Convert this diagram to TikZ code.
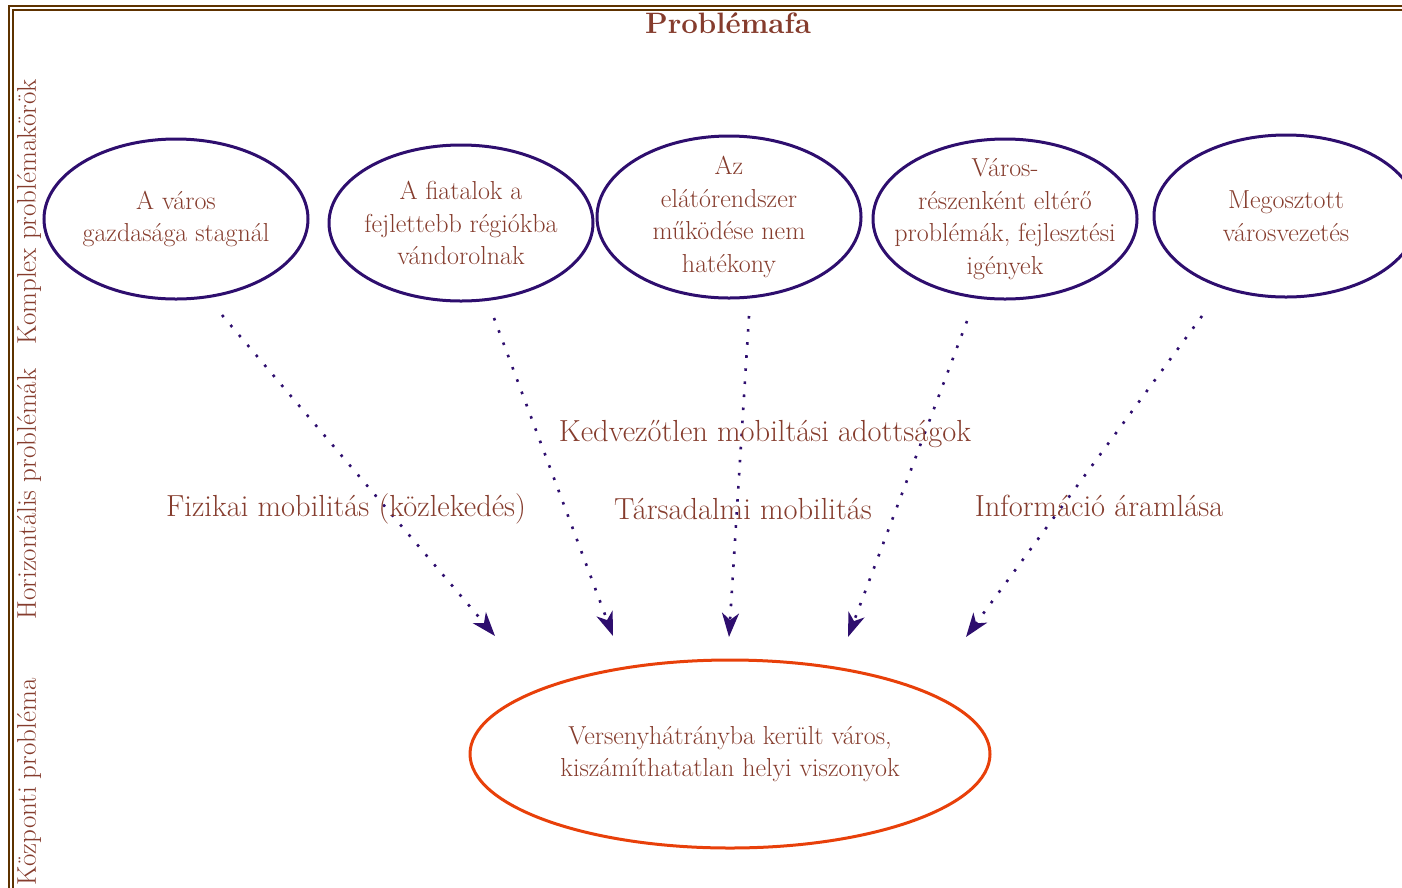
\documentclass[tikz,border=0pt]{standalone}
\usepackage{fontspec}
\usetikzlibrary{shapes.geometric,arrows.meta}

\definecolor{framebrown}{RGB}{94,50,0}
\definecolor{textbrown}{RGB}{133,60,45}
\definecolor{ovalpurple}{RGB}{46,14,110}
\definecolor{coreorange}{RGB}{232,64,10}

\tikzset{
  problem/.style={ellipse,draw=ovalpurple,line width=3pt,inner xsep=-30pt,inner ysep=-15pt,
    minimum width=264pt,minimum height=160pt,align=center,text=textbrown,
    font=\fontsize{26}{32.5}\selectfont},
  core/.style={ellipse,draw=coreorange,line width=3pt,inner sep=0pt,
    minimum width=520pt,minimum height=188pt,align=center,text=textbrown,
    font=\fontsize{26}{32.5}\selectfont},
  mob/.style={draw=ovalpurple,line width=2.6pt,dash pattern=on 2.6pt off 10.5pt,
    -{Stealth[length=24pt,width=17pt,inset=7pt]}},
  tier/.style={rotate=90,text=textbrown,font=\fontsize{27}{30}\selectfont},
  theme/.style={text=textbrown,font=\fontsize{30.5}{34}\selectfont}
}

\begin{document}
\begin{tikzpicture}[x=1pt,y=-1pt]

	\useasboundingbox (0,0) rectangle (1402,887);

	% double frame, running off the right and bottom edges
	\draw[framebrown,line width=2pt] (9,6) rectangle (1420,900);
	\draw[framebrown,line width=2pt] (12.5,9.5) rectangle (1416,896);

	\node (title) at (728,23) [text=textbrown,font=\fontsize{29.5}{31}\selectfont\bfseries] {Problémafa};

	% row labels
	\node (komplex) at (29,212) [tier] {Komplex problémakörök};
	\node (horiz) at (29,494) [tier] {Horizontális problémák};
	\node (kozp) at (29,782) [tier] {Központi probléma};

	% problem ovals
	\node (e1) at (176,219) [problem] {A város\\ gazdasága stagnál};
	\node (e2) at (461,223) [problem,minimum height=156pt] {A fiatalok a\\ fejlettebb régiókba\\ vándorolnak};
	\node (e3) at (729,217) [problem,minimum height=162pt] {Az\\ elátórendszer\\ működése nem\\ hatékony};
	\node (e4) at (1005,219) [problem] {Város-\\ részenként eltérő\\ problémák, fejlesztési\\ igények};
	\node (e5) at (1286,216) [problem,minimum height=162pt] {Megosztott\\ városvezetés};

	\node (center) at (730,754) [core] {Versenyhátrányba került város,\\ kiszámíthatatlan helyi viszonyok};

	% dotted arrows
	\coordinate (s1) at (222,315);  \coordinate (t1) at (495,636);
	\coordinate (s2) at (494,318);  \coordinate (t2) at (613,636);
	\coordinate (s3) at (749,316);  \coordinate (t3) at (729,637);
	\coordinate (s4) at (967,321);  \coordinate (t4) at (848,637);
	\coordinate (s5) at (1202,316); \coordinate (t5) at (966,637);

	\draw[mob] (s1) -- (t1);
	\draw[mob] (s2) -- (t2);
	\draw[mob] (s3) -- (t3);
	\draw[mob] (s4) -- (t4);
	\draw[mob] (s5) -- (t5);

	% horizontal themes
	\node (kedv) at (765,434) [theme] {Kedvezőtlen mobiltási adottságok};
	\node (fiz) at (346,509) [theme] {Fizikai mobilitás (közlekedés)};
	\node (tars) at (743,509) [theme] {Társadalmi mobilitás};
	\node (info) at (1099,506) [theme] {Információ áramlása};

\end{tikzpicture}
\end{document}
